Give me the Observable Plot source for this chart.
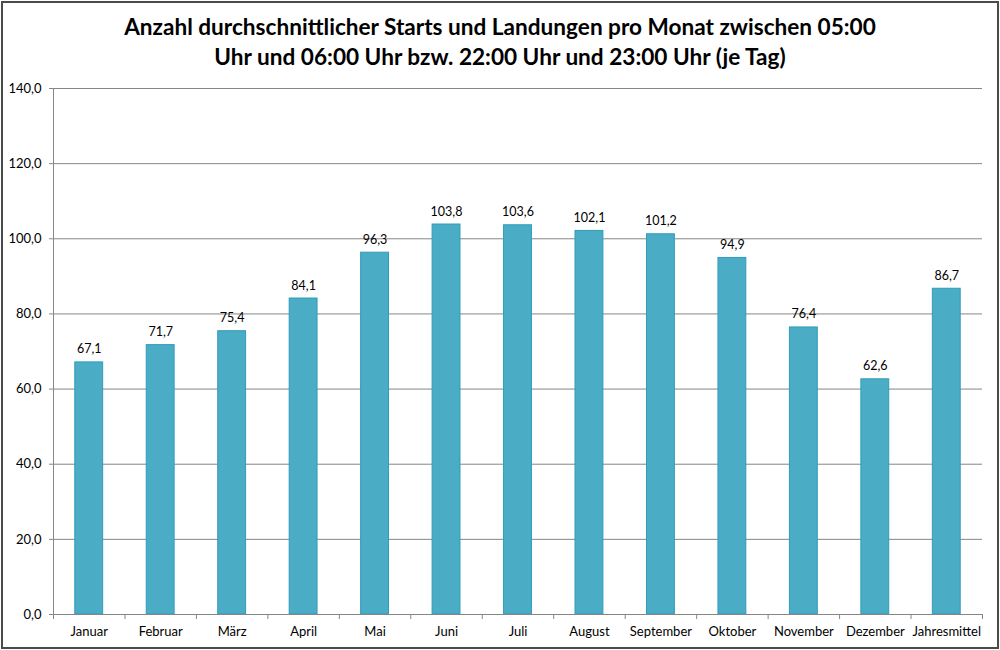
<!DOCTYPE html>
<html><head><meta charset="utf-8">
<script src="https://cdn.jsdelivr.net/npm/d3@7"></script>
<script src="https://cdn.jsdelivr.net/npm/@observablehq/plot@0.6"></script>
<style>
body{margin:0;background:#fff;}
#wrap{position:relative;width:1000px;height:650px;overflow:hidden;font-family:Lato,"Open Sans",sans-serif;}
#frame{position:absolute;left:1px;top:1px;width:994px;height:644px;border:2px solid #4a4a4a;pointer-events:none;}
#title{height:78px;box-sizing:border-box;padding-top:12px;text-align:center;font-weight:bold;font-size:22.6px;line-height:30px;color:#000;}
</style></head>
<body>
<div id="wrap">
<div id="title">Anzahl durchschnittlicher Starts und Landungen pro Monat zwischen 05:00<br>Uhr und 06:00 Uhr bzw. 22:00 Uhr und 23:00 Uhr (je Tag)</div>
<div id="chart"></div>
<div id="frame"></div>
</div>
<script>
const categories = ["Januar","Februar","März","April","Mai","Juni","Juli","August","September","Oktober","November","Dezember","Jahresmittel"];
const values = [67.1,71.7,75.4,84.1,96.3,103.8,103.6,102.1,101.2,94.9,76.4,62.6,86.7];
const yTicks = [0,20,40,60,80,100,120,140];

const data = categories.map((c,i)=>({cat:c, v:values[i]}));
const fmt = v => d3.format(".1f")(v).replace(".", ",");

const W = 1000, H = 572, mL = 53, mR = 18, mT = 10, mB = 36;
const step = (W - mL - mR) / categories.length;

const plot = Plot.plot({
  width: W, height: H,
  marginLeft: mL, marginRight: mR, marginTop: mT, marginBottom: mB,
  style: {fontFamily: "Lato, 'Open Sans', sans-serif", fontSize: "12px", color: "#000", background: "transparent"},
  x: {domain: categories, paddingInner: 0.61, paddingOuter: 0.305, round: false, label: null},
  y: {domain: [0,140], label: null},
  marks: [
    Plot.gridY(yTicks, {stroke: "#868686", strokeOpacity: 1}),
    Plot.ruleX([categories[0]], {y1: 0, y2: 140, dx: -step/2, stroke: "#868686"}),
    Plot.axisY({ticks: yTicks, tickSize: 4, tickFormat: fmt, tickPadding: 8, stroke: "#868686", label: null, fontSize: 13}),
    Plot.barY(data, {x: "cat", y: "v", fill: "#4bacc6", stroke: "#2f9cba", strokeWidth: 1}),
    Plot.text(data, {x: "cat", y: "v", text: d => fmt(d.v), dy: -13, fontSize: 12.5}),
    Plot.ruleY([0], {stroke: "#868686"}),
    Plot.axisX({tickSize: 5, dx: -step/2, tickFormat: () => "", stroke: "#868686", label: null}),
    Plot.axisX({ticks: ["Jahresmittel"], tickSize: 5, dx: step/2, tickFormat: () => "", stroke: "#868686", label: null}),
    Plot.axisX({tickSize: 0, tickPadding: 12, fontSize: 13, label: null})
  ]
});
document.getElementById("chart").appendChild(plot);
</script>
</body></html>
